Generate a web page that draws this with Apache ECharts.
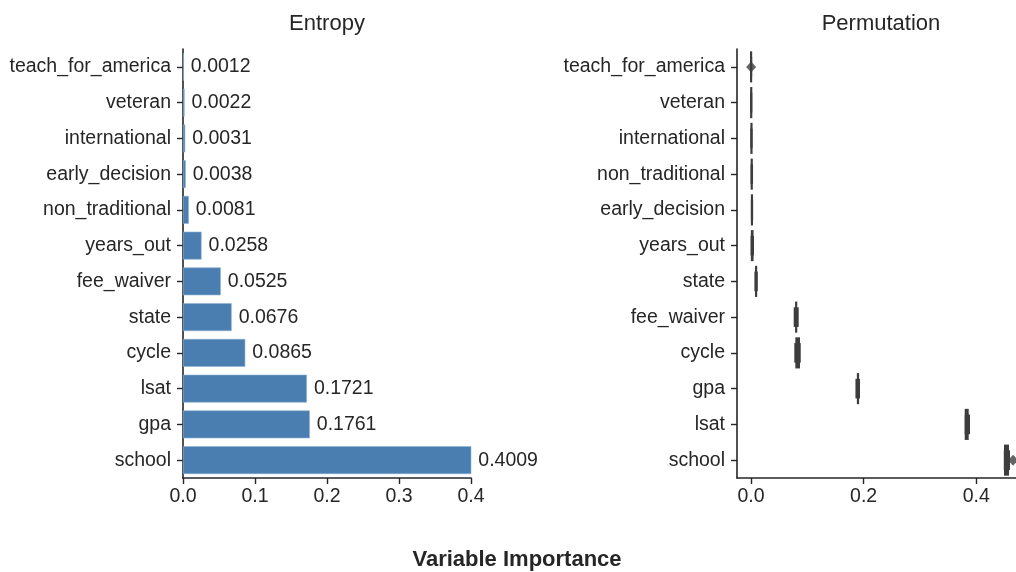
<!DOCTYPE html>
<html>
<head>
<meta charset="utf-8">
<script src="https://cdn.jsdelivr.net/npm/echarts@6/dist/echarts.min.js"></script>
<style>
html,body{margin:0;padding:0;background:#fff;}
#chart{width:1016px;height:572px;}
</style>
</head>
<body>
<div id="chart"></div>
<script>
// Entropy panel (top to bottom)
var entropyCategories = ['teach_for_america','veteran','international','early_decision','non_traditional','years_out','fee_waiver','state','cycle','lsat','gpa','school'];
var entropyValues = [0.0012,0.0022,0.0031,0.0038,0.0081,0.0258,0.0525,0.0676,0.0865,0.1721,0.1761,0.4009];
var entropyTicks = [0.0,0.1,0.2,0.3,0.4];

// Permutation panel (top to bottom)
var permCategories = ['teach_for_america','veteran','international','non_traditional','early_decision','years_out','state','fee_waiver','cycle','gpa','lsat','school'];
// full-height part extent [low, high]
var permFullLow  = [-0.0016,-0.0013,-0.0008,-0.0005,0.0000,-0.0003,0.0075,0.0787,0.0787,0.1880,0.3796,0.4494];
var permFullHigh = [ 0.0018, 0.0020, 0.0024, 0.0030,0.0033, 0.0045,0.0105,0.0817,0.0870,0.1920,0.3867,0.4583];
// wider middle part extent [low, high]
var permMidLow   = [-0.0016,-0.0013,-0.0008,-0.0008,0.0000,-0.0008,0.0060,0.0758,0.0769,0.1855,0.3796,0.4490];
var permMidHigh  = [ 0.0018, 0.0020, 0.0024, 0.0036,0.0035, 0.0053,0.0120,0.0847,0.0883,0.1936,0.3890,0.4600];
// outlying tails drawn as diamonds
var permOutlierCats = ['teach_for_america','school'];
var permOutlierVals = [0.0002,0.4655];
var permTicks = [0.0,0.2,0.4];

var ink = '#262626';
var fontFam = '"Liberation Sans", Arial, sans-serif';

var permData = permCategories.map(function(c,i){
  return [c, permFullLow[i], permFullHigh[i], permMidLow[i], permMidHigh[i]];
});
var outlierData = permOutlierCats.map(function(c,i){ return [permOutlierVals[i], c]; });

var chart = echarts.init(document.getElementById('chart'), null, {renderer:'canvas'});

function yAxisCfg(gi, cats){
  return {
    type:'category', gridIndex:gi, data:cats, inverse:true,
    axisLine:{show:true, onZero:false, lineStyle:{color:ink, width:1.6}},
    axisTick:{show:true, alignWithLabel:true, length:6, lineStyle:{color:ink, width:1.4}},
    axisLabel:{color:ink, fontSize:19.5, fontFamily:fontFam, margin:12, padding:[3,0,0,0]},
    splitLine:{show:false}
  };
}

var option = {
  animation:false,
  backgroundColor:'#ffffff',
  grid:[
    {left:183, right:545, top:49, bottom:94, containLabel:false},
    {left:737, right:0, top:49, bottom:94, containLabel:false}
  ],
  xAxis:[
    {type:'value', gridIndex:0, min:0, max:0.4, interval:0.1,
     axisLine:{show:true, onZero:false, lineStyle:{color:ink, width:1.6}},
     axisTick:{show:true, length:6, lineStyle:{color:ink, width:1.4}},
     axisLabel:{color:ink, fontSize:19.5, fontFamily:fontFam, margin:9,
       formatter:function(v){return v.toFixed(1);}},
     splitLine:{show:false}},
    {type:'value', gridIndex:1, min:-0.0249, max:0.4707,
     axisLine:{show:true, onZero:false, lineStyle:{color:ink, width:1.6}},
     axisTick:{show:true, length:6, customValues:permTicks, lineStyle:{color:ink, width:1.4}},
     axisLabel:{color:ink, fontSize:19.5, fontFamily:fontFam, margin:9, customValues:permTicks,
       formatter:function(v){return v.toFixed(1);}},
     splitLine:{show:false}}
  ],
  yAxis:[ yAxisCfg(0, entropyCategories), yAxisCfg(1, permCategories) ],
  series:[
    {type:'bar', xAxisIndex:0, yAxisIndex:0, data:entropyValues, barWidth:'78%',
     itemStyle:{color:'#4a7eb0', borderColor:'#8fb2d3', borderWidth:0.6},
     label:{show:true, position:'right', distance:7, color:ink, fontSize:19.5, fontFamily:fontFam,
       padding:[3,0,0,0],
       formatter:function(p){return p.value.toFixed(4);}}},
    {type:'custom', xAxisIndex:1, yAxisIndex:1, data:permData,
     encode:{x:[1,2,3,4], y:0},
     renderItem:function(params, api){
       var ci = api.value(0);
       var band = api.size([0,1])[1];
       var a = api.coord([api.value(1), ci]);
       var b = api.coord([api.value(2), ci]);
       var c = api.coord([api.value(3), ci]);
       var d = api.coord([api.value(4), ci]);
       var fullH = band*0.87, midH = band*0.55;
       var w1 = Math.max(b[0]-a[0], 2.2);
       var w2 = Math.max(d[0]-c[0], 2.2);
       var cx1 = (a[0]+b[0])/2, cx2 = (c[0]+d[0])/2;
       return {type:'group', children:[
         {type:'rect', shape:{x:cx1-w1/2, y:a[1]-fullH/2, width:w1, height:fullH},
          style:{fill:'#3d3d3d'}},
         {type:'rect', shape:{x:cx2-w2/2, y:a[1]-midH/2, width:w2, height:midH},
          style:{fill:'#3d3d3d'}}
       ]};
     }},
    {type:'scatter', xAxisIndex:1, yAxisIndex:1, data:outlierData,
     symbol:'diamond', symbolSize:[10,11], itemStyle:{color:'#3d3d3d'}}
  ],
  graphic:[
    {type:'text', x:327, y:24, style:{text:'Entropy', fill:ink, fontSize:22, fontFamily:fontFam, textAlign:'center', textVerticalAlign:'middle'}},
    {type:'text', x:881, y:24, style:{text:'Permutation', fill:ink, fontSize:22, fontFamily:fontFam, textAlign:'center', textVerticalAlign:'middle'}},
    {type:'text', x:517, y:560, style:{text:'Variable Importance', fill:ink, fontSize:22, fontWeight:'bold', fontFamily:fontFam, textAlign:'center', textVerticalAlign:'middle'}}
  ]
};
chart.setOption(option);
</script>
</body>
</html>
